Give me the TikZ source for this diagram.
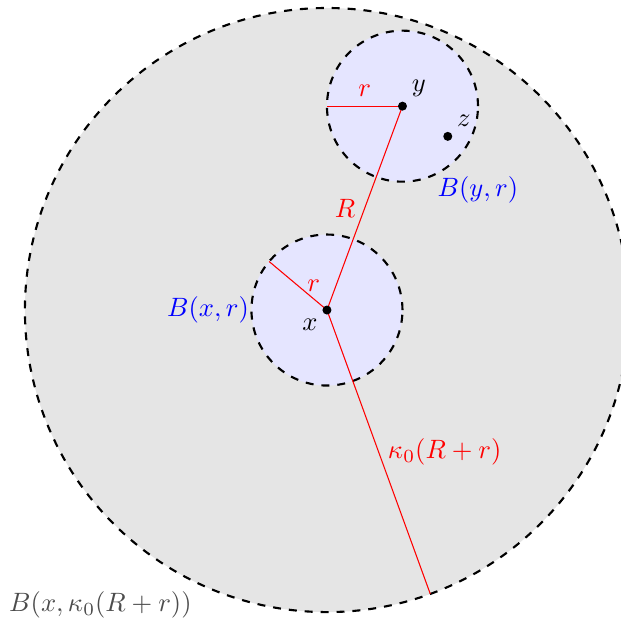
\documentclass[tikz,border=0pt]{standalone}
\usepackage{amsmath,amssymb}
\usepackage{xcolor}
\definecolor{ballgray}{HTML}{E5E5E5}
\definecolor{ballblue}{HTML}{E5E5FF}

\begin{document}
\begin{tikzpicture}[
    ball/.style={dashed, thick},
    rad/.style={red, line width=0.4pt},
    dot/.style={circle, fill=black, inner sep=0pt, minimum size=3.4pt},
    lbl/.style={text=blue},
  ]
  \clip (-4.33,-4.093) rectangle (3.894,4.106);

  % centres
  \coordinate (x) at (0,0);
  \coordinate (y) at (1,2.7);
  \coordinate (z) at (1.6,2.3);

  % the three balls
  \filldraw[ball, fill=ballgray] (x) circle (4);
  \filldraw[ball, fill=ballblue] (x) circle (1);
  \filldraw[ball, fill=ballblue] (y) circle (1);

  % radii
  \coordinate (yr) at (0,2.7);
  \coordinate (xr) at (140:1);
  \coordinate (xk) at (-70:4);
  \draw[rad] (y) -- node[above] {$r$} (yr);
  \draw[rad] (x) -- node[left] {$R$} (y);
  \draw[rad] (x) -- node[right] {$r$} (xr);
  \draw[rad] (x) -- node[right] {$\kappa_0(R+r)$} (xk);

  % points
  \node[dot] (px) at (x) {};
  \node[dot] (py) at (y) {};
  \node[dot] (pz) at (z) {};
  \node[below left] at (px) {$x$};
  \node[above right] at (py) {$y$};
  \node[above right] at (pz) {$z$};

  % ball names
  \node[lbl] at (2.0,1.59) {$B(y,r)$};
  \node[lbl, anchor=east] at (-0.91,0) {$B(x,r)$};
  \node[text=black!70] at (-3.0,-3.91) {$B(x,\kappa_0(R+r))$};
\end{tikzpicture}
\end{document}
